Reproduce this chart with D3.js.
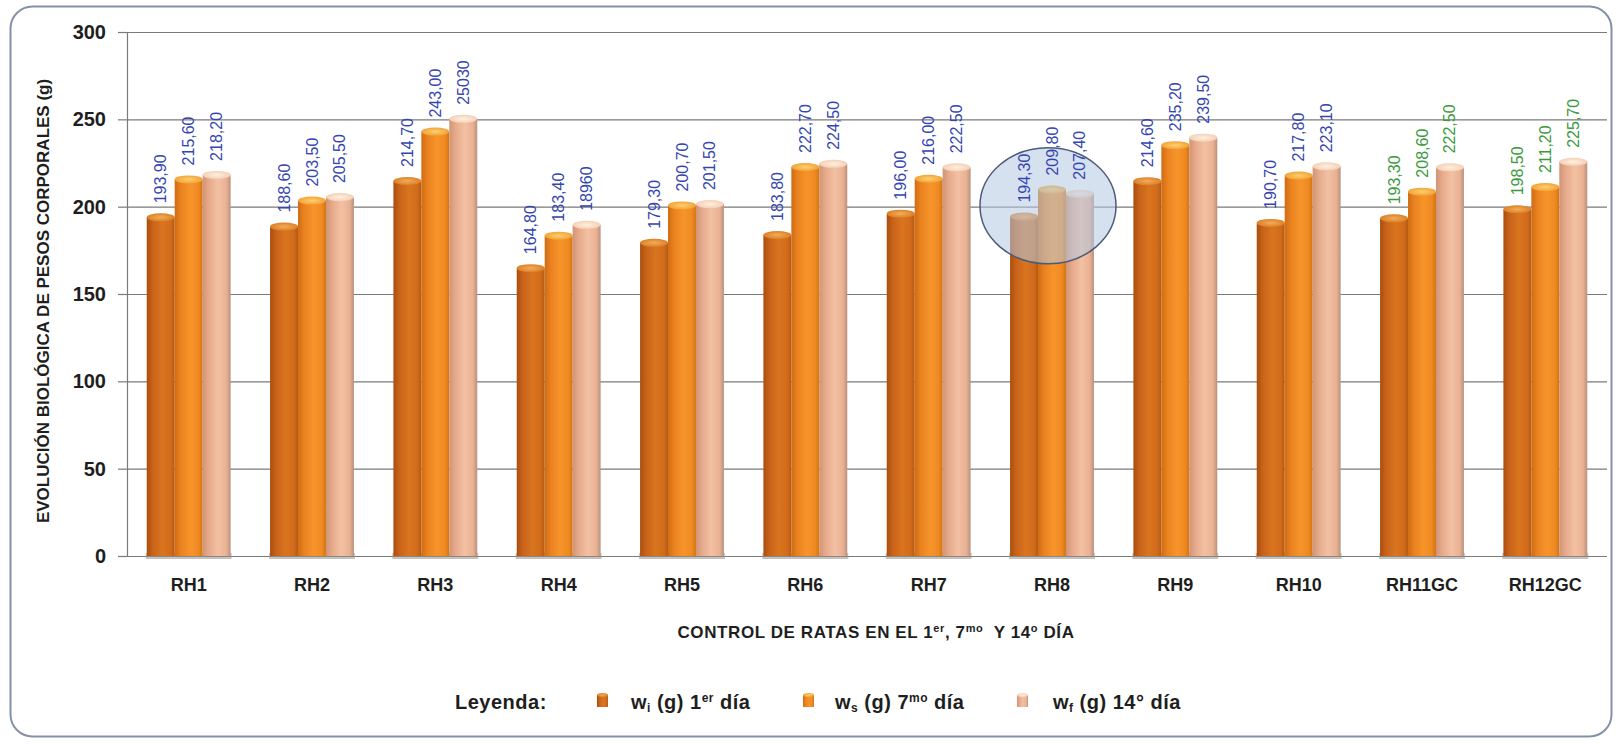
<!DOCTYPE html>
<html>
<head>
<meta charset="utf-8">
<script src="https://cdn.jsdelivr.net/npm/d3@7"></script>
<style>
  body { margin: 0; background: #ffffff; }
  svg { display: block; }
</style>
</head>
<body>
<svg id="chart" width="1619" height="744"></svg>
<script>
// Rat groups and body weights (g) on day 1, day 7 and day 14
const categories = ["RH1", "RH2", "RH3", "RH4", "RH5", "RH6", "RH7", "RH8", "RH9", "RH10", "RH11GC", "RH12GC"];
const seriesKeys = ["wi", "ws", "wf"];
const day1 = [193.9, 188.6, 214.7, 164.8, 179.3, 183.8, 196.0, 194.3, 214.6, 190.7, 193.3, 198.5];
const day7 = [215.6, 203.5, 243.0, 183.4, 200.7, 222.7, 216.0, 209.8, 235.2, 217.8, 208.6, 211.2];
const day14 = [218.2, 205.5, 250.3, 189.6, 201.5, 224.5, 222.5, 207.4, 239.5, 223.1, 222.5, 225.7];
const day1Labels = ["193,90", "188,60", "214,70", "164,80", "179,30", "183,80", "196,00", "194,30", "214,60", "190,70", "193,30", "198,50"];
const day7Labels = ["215,60", "203,50", "243,00", "183,40", "200,70", "222,70", "216,00", "209,80", "235,20", "217,80", "208,60", "211,20"];
const day14Labels = ["218,20", "205,50", "25030", "18960", "201,50", "224,50", "222,50", "207,40", "239,50", "223,10", "222,50", "225,70"];
const yTicks = [0, 50, 100, 150, 200, 250, 300];
const controlGroups = ["RH11GC", "RH12GC"];
const highlighted = "RH8";

const seriesValues = [day1, day7, day14];
const seriesLabels = [day1Labels, day7Labels, day14Labels];

const font = "'Liberation Sans', Arial, sans-serif";
const svg = d3.select("#chart");
const defs = svg.append("defs");

// Cylinder-like shading for each series
const shading = [
  { id: "g0", stops: ["#a94e0e", "#c9631a", "#d9741f", "#d26c1b", "#b45a14"], cap: ["#f1ad5a", "#d9781e"] },
  { id: "g1", stops: ["#cf6c12", "#ea8220", "#f6942a", "#ef8a22", "#d3740f"], cap: ["#fdd070", "#f09a2c"] },
  { id: "g2", stops: ["#cf9576", "#e6aa8b", "#f3c0a3", "#e9b193", "#b9907d"], cap: ["#fff0e0", "#f3c9ae"] }
];
shading.forEach(s => {
  const g = defs.append("linearGradient").attr("id", s.id).attr("x1", "0").attr("x2", "1").attr("y1", "0").attr("y2", "0");
  [0, 0.22, 0.55, 0.85, 1].forEach((o, i) => g.append("stop").attr("offset", o).attr("stop-color", s.stops[i]));
  const c = defs.append("radialGradient").attr("id", s.id + "cap").attr("cx", "0.5").attr("cy", "0.5").attr("r", "0.6");
  c.append("stop").attr("offset", 0).attr("stop-color", s.cap[0]);
  c.append("stop").attr("offset", 1).attr("stop-color", s.cap[1]);
});

// Outer rounded frame
svg.append("rect")
  .attr("x", 10.5).attr("y", 6.5).attr("width", 1601).attr("height", 730)
  .attr("rx", 22).attr("ry", 22)
  .attr("fill", "#ffffff").attr("stroke", "#8391a8").attr("stroke-width", 2);

const plotLeft = 127, plotRight = 1607;
const y = d3.scaleLinear().domain([0, 300]).range([556, 32]);
const x = d3.scaleBand().domain(categories).range([plotLeft, plotRight]).paddingInner(0.32).paddingOuter(0.16);
const xs = d3.scaleBand().domain(seriesKeys).range([0, x.bandwidth()]);

// Gridlines
svg.append("g")
  .attr("transform", `translate(${plotLeft},0)`)
  .call(d3.axisLeft(y).tickValues(yTicks).tickSize(-(plotRight - plotLeft)).tickFormat(""))
  .call(g => g.select(".domain").remove())
  .call(g => g.selectAll("line").attr("stroke", "#7a7a7a").attr("stroke-width", 1.2));

// Y axis with ticks and labels
svg.append("g")
  .attr("transform", `translate(${plotLeft},0)`)
  .call(d3.axisLeft(y).tickValues(yTicks).tickSize(9).tickPadding(12).tickSizeOuter(0))
  .call(g => g.select(".domain").attr("stroke", "#7a7a7a").attr("stroke-width", 1.2))
  .call(g => g.selectAll("line").attr("stroke", "#7a7a7a").attr("stroke-width", 1.2))
  .call(g => g.selectAll("text")
    .attr("font-family", font)
    .attr("font-weight", "bold").attr("font-size", 20).attr("fill", "#1e1e1e"));

// Floor shadow under each group
svg.append("g").selectAll("rect")
  .data(categories)
  .join("rect")
  .attr("x", d => x(d) - 1)
  .attr("y", y(0) - 3)
  .attr("width", x.bandwidth() + 2)
  .attr("height", 6)
  .attr("fill", "#9b8f88").attr("opacity", 0.55);

// Bars
const barData = [];
categories.forEach((c, i) => {
  seriesKeys.forEach((k, j) => {
    barData.push({ cat: c, key: k, s: j, value: seriesValues[j][i], label: seriesLabels[j][i] });
  });
});

const bars = svg.append("g").selectAll("g")
  .data(barData)
  .join("g");

bars.append("rect")
  .attr("x", d => x(d.cat) + xs(d.key))
  .attr("y", d => y(d.value))
  .attr("width", xs.bandwidth())
  .attr("height", d => y(0) - y(d.value))
  .attr("fill", d => `url(#g${d.s})`);

bars.append("ellipse")
  .attr("cx", d => x(d.cat) + xs(d.key) + xs.bandwidth() / 2)
  .attr("cy", d => y(d.value))
  .attr("rx", xs.bandwidth() / 2)
  .attr("ry", 4)
  .attr("fill", d => `url(#g${d.s}cap)`);

// Highlight ellipse around one group (over the bars, under the labels)
const hx = x(highlighted) + x.bandwidth() / 2 - 4;
svg.append("ellipse")
  .attr("cx", hx).attr("cy", y(200.5))
  .attr("rx", 68).attr("ry", 58)
  .attr("fill", "#b5c8e2").attr("fill-opacity", 0.55)
  .attr("stroke", "#4b5b78").attr("stroke-width", 1.5);

// Value labels, rotated
svg.append("g").selectAll("text")
  .data(barData)
  .join("text")
  .attr("transform", d => `translate(${x(d.cat) + xs(d.key) + xs.bandwidth() / 2},${y(d.value) - 14}) rotate(-90)`)
  .attr("dominant-baseline", "central")
  .attr("font-family", font)
  .attr("font-size", 16)
  .attr("fill", d => controlGroups.includes(d.cat) ? "#3a9a3c" : "#3546b0")
  .text(d => d.label);

// Category labels
svg.append("g")
  .attr("transform", `translate(0,${y(0)})`)
  .call(d3.axisBottom(x).tickSize(0).tickPadding(22))
  .call(g => g.select(".domain").remove())
  .call(g => g.selectAll("text")
    .attr("font-family", font)
    .attr("font-weight", "bold").attr("font-size", 18).attr("fill", "#1e1e1e"));

// Y axis title
svg.append("text")
  .attr("transform", "translate(43,301) rotate(-90)")
  .attr("text-anchor", "middle")
  .attr("dominant-baseline", "central")
  .attr("font-family", font)
  .attr("font-weight", "bold").attr("font-size", 17).attr("fill", "#1e1e1e")
  .text("EVOLUCIÓN BIOLÓGICA DE PESOS CORPORALES (g)");

// X axis title with superscripts
const xt = svg.append("text")
  .attr("x", 876).attr("y", 638)
  .attr("text-anchor", "middle")
  .attr("letter-spacing", 0.6)
  .attr("font-family", font)
  .attr("font-weight", "bold").attr("font-size", 17).attr("fill", "#1e1e1e");
[["CONTROL DE RATAS EN EL 1", false], ["er", true], [", 7", false], ["mo", true], ["  Y 14", false], ["o", true], [" DÍA", false]]
  .forEach(([t, sup]) => {
    xt.append("tspan")
      .attr("font-size", sup ? 11 : 17)
      .attr("baseline-shift", sup ? "55%" : null)
      .attr("xml:space", "preserve")
      .text(t);
  });

// Legend
const legendY = 709;
svg.append("text")
  .attr("x", 455).attr("y", legendY)
  .attr("letter-spacing", 0.5)
  .attr("font-family", font).attr("font-weight", "bold").attr("font-size", 20).attr("fill", "#1e1e1e")
  .text("Leyenda:");

const legendItems = [
  { s: 0, sx: 597, tx: 631, parts: [["w", 0], ["i", -1], [" (g) 1", 0], ["er", 1], [" día", 0]] },
  { s: 1, sx: 803, tx: 835, parts: [["w", 0], ["s", -1], [" (g) 7", 0], ["mo", 1], [" día", 0]] },
  { s: 2, sx: 1017, tx: 1053, parts: [["w", 0], ["f", -1], [" (g) 14° día", 0]] }
];
legendItems.forEach(item => {
  svg.append("rect")
    .attr("x", item.sx).attr("y", legendY - 14)
    .attr("width", 11).attr("height", 12)
    .attr("fill", `url(#g${item.s})`);
  svg.append("ellipse")
    .attr("cx", item.sx + 5.5).attr("cy", legendY - 14)
    .attr("rx", 5.5).attr("ry", 2)
    .attr("fill", `url(#g${item.s}cap)`);
  const t = svg.append("text")
    .attr("x", item.tx).attr("y", legendY)
    .attr("letter-spacing", 0.5)
    .attr("font-family", font).attr("font-weight", "bold").attr("font-size", 20).attr("fill", "#1e1e1e");
  item.parts.forEach(([txt, pos]) => {
    t.append("tspan")
      .attr("font-size", pos === 0 ? 20 : 12)
      .attr("baseline-shift", pos === 1 ? "55%" : pos === -1 ? "-25%" : null)
      .attr("xml:space", "preserve")
      .text(txt);
  });
});
</script>
</body>
</html>
